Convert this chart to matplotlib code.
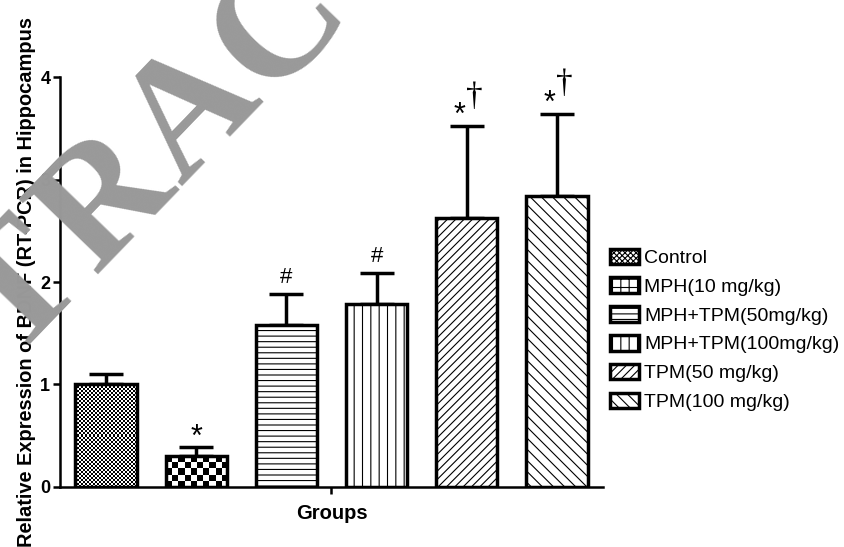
import numpy as np
import matplotlib
matplotlib.use("Agg")
import matplotlib.pyplot as plt
from matplotlib.patches import Patch

plt.rcParams['font.family'] = ['Liberation Sans', 'DejaVu Sans']
plt.rcParams['hatch.linewidth'] = 0.8

# Data
groups = ['Control', 'MPH(10 mg/kg)', 'MPH+TPM(50mg/kg)', 'MPH+TPM(100mg/kg)',
          'TPM(50 mg/kg)', 'TPM(100 mg/kg)']
means = [1.00, 0.30, 1.58, 1.79, 2.62, 2.84]
errors = [0.10, 0.09, 0.30, 0.30, 0.90, 0.80]
marks = ['', '*', '#', '#', '*', '*']
dagger = [False, False, False, False, True, True]
hatches = [None, None, '---', '||', '////', '\\\\\\']
checker_px = [2, 6, 0, 0, 0, 0]   # checkerboard cell size (pixels), 0 = none
legend_hatch = ['xxxxxx', '++', '---', '||', '////', '\\\\\\']

W, H = 845, 547
fig = plt.figure(figsize=(W / 100, H / 100), dpi=100)
ax = fig.add_axes([0.071, 0.1097, 0.6426, 0.7495])

x = np.arange(len(groups))
width = 0.68
ax.set_xlim(-0.51, len(groups) - 0.49)
ax.set_ylim(0, 4)

face = ['none' if c else 'white' for c in checker_px]
bars = ax.bar(x, means, width, color=face, edgecolor='black', linewidth=2.5, zorder=2)
for b, h in zip(bars, hatches):
    if h:
        b.set_hatch(h)

# checkerboard fills (Control, MPH)
fig.canvas.draw()
for b, c in zip(bars, checker_px):
    if not c:
        continue
    x0, y0 = b.get_x(), b.get_y()
    x1, y1 = x0 + b.get_width(), y0 + b.get_height()
    p0 = ax.transData.transform((x0, y0))
    p1 = ax.transData.transform((x1, y1))
    nx = max(1, int(round((p1[0] - p0[0]) / c)))
    ny = max(1, int(round((p1[1] - p0[1]) / c)))
    board = (np.indices((ny, nx)).sum(axis=0) % 2).astype(float)
    im = ax.imshow(board, cmap='gray', extent=(x0, x1, y0, y1), aspect='auto',
                   interpolation='nearest', zorder=1.5, vmin=0, vmax=1)
    im.set_clip_path(b)

# upper error bars
ax.errorbar(x, means, yerr=[np.zeros(len(x)), errors], fmt='none', ecolor='black',
            elinewidth=2.5, capsize=12, capthick=2.5, zorder=1)

# significance marks
for i in range(len(x)):
    top = means[i] + errors[i]
    if dagger[i]:
        ax.text(x[i] - 0.08, top - 0.05, '*', ha='center', va='bottom', fontsize=22)
        ax.text(x[i] + 0.08, top + 0.29, '\u2020', ha='center', va='center', fontsize=24,
                family=['Liberation Serif', 'DejaVu Serif'])
    elif marks[i] == '*':
        ax.text(x[i], top - 0.06, '*', ha='center', va='bottom', fontsize=22)
    elif marks[i] == '#':
        ax.text(x[i], top + 0.06, '#', ha='center', va='bottom', fontsize=16)

ax.spines['top'].set_visible(False)
ax.spines['right'].set_visible(False)
ax.spines['left'].set_linewidth(1.8)
ax.spines['bottom'].set_linewidth(1.8)
ax.set_yticks([0, 1, 2, 3, 4])
ax.set_xticks([(len(x) - 1) / 2])
ax.set_xticklabels([''])
ax.tick_params(axis='both', width=1.8, length=5, pad=2, labelsize=13)
for t in ax.get_yticklabels():
    t.set_fontweight('bold')

ax.set_xlabel('Groups', fontsize=14.5, fontweight='bold', labelpad=5)
ax.set_ylabel('Relative Expression of BDNF (RT-PCR) in Hippocampus', fontsize=14.4,
              fontweight='bold', labelpad=3)

# legend
handles = [Patch(facecolor='white', edgecolor='black', linewidth=2.5, hatch=h)
           for h in legend_hatch]
fig.legend(handles, groups, loc='center left', bbox_to_anchor=(0.722, 0.397),
           frameon=False, fontsize=14, handlelength=1.5, handleheight=0.85,
           handletextpad=0.25, labelspacing=0.53, borderpad=0, borderaxespad=0)

# retraction watermark, letter by letter along a 46 degree line
word = 'RETRACTED'
ang = np.deg2rad(46)
adv = 124.0             # pixels between letter centres
cx0, cy0 = 97.0, 194.0  # centre of the second R, image pixels from top-left
wm_size = 120
half_cap = 0.33 * wm_size * 100 / 72
for k, ch in enumerate(word):
    d = (k - 3) * adv
    cx = cx0 + d * np.cos(ang)
    cy = cy0 - d * np.sin(ang)
    # move from letter centre down to its baseline
    bx = cx + half_cap * np.sin(ang)
    by = cy + half_cap * np.cos(ang)
    fig.text(bx / W, 1 - by / H, ch, fontsize=wm_size, fontweight='bold', color='#999999',
             rotation=46, rotation_mode='anchor', ha='center', va='baseline',
             family=['Liberation Serif', 'DejaVu Serif'], zorder=10)

fig.savefig('out.png', dpi=100)
